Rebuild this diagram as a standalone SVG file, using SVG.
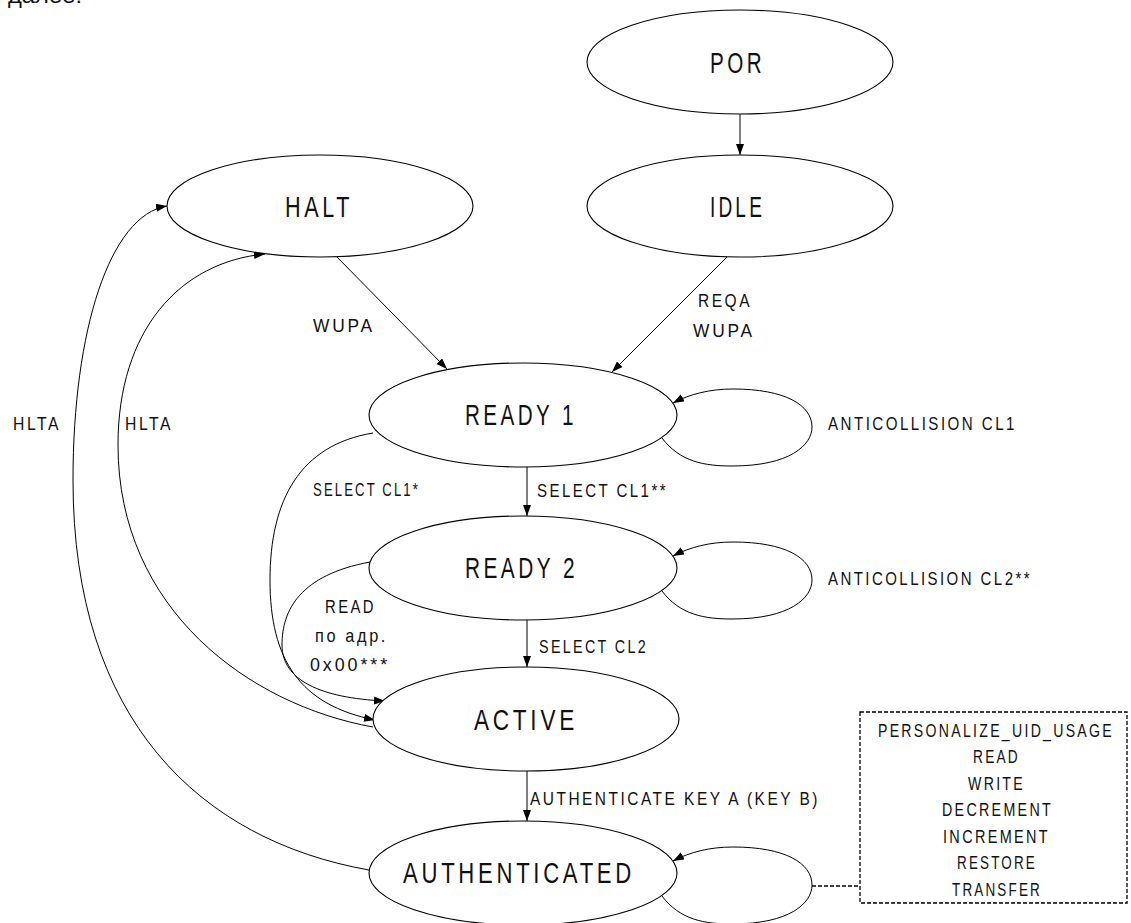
<svg xmlns="http://www.w3.org/2000/svg" width="1131" height="923" viewBox="0 0 1131 923">
<style>
.node ellipse{fill:#fff;stroke:#000;stroke-width:1.1}
.t{font-family:"Liberation Sans",Arial,sans-serif;fill:#111}
.n{font-size:30px;letter-spacing:5px}
.l{font-size:18.5px;letter-spacing:3px}
.c{fill:none;stroke:#000;stroke-width:1}
.d{fill:none;stroke:#000;stroke-width:1.3;stroke-dasharray:4 2}
</style>
<defs>
<marker id="ah" markerUnits="userSpaceOnUse" markerWidth="11" markerHeight="8" refX="11" refY="4" orient="auto">
<path d="M0,0 L11,4 L0,8 z" fill="#000"/>
</marker>
</defs>
<rect width="1131" height="923" fill="#fff"/>
<text class="t" x="8" y="3" font-size="22" textLength="74" lengthAdjust="spacingAndGlyphs">далее.</text>

<g id="connectors">
<path class="c" d="M740,114 L740,155" marker-end="url(#ah)"/>
<path class="c" d="M337,257 L447,369" marker-end="url(#ah)"/>
<path class="c" d="M727,257 L612,372" marker-end="url(#ah)"/>
<path class="c" d="M527,467 L527,516" marker-end="url(#ah)"/>
<path class="c" d="M527,620 L527,667" marker-end="url(#ah)"/>
<path class="c" d="M527,771 L527,821" marker-end="url(#ah)"/>
<path class="c" d="M662,438 C680,462 705,466 732,466 C790,466 812,445 812,427 C812,405 785,389 733,389 C710,389 690,394 673,403" marker-end="url(#ah)"/>
<path class="c" d="M662,591 C680,615 705,619 732,619 C790,619 812,598 812,580 C812,558 785,542 733,542 C710,542 690,547 673,556" marker-end="url(#ah)"/>
<path class="c" d="M662,896 C680,920 705,924 732,924 C790,924 812,903 812,885 C812,863 785,847 733,847 C710,847 690,852 673,861" marker-end="url(#ah)"/>
<path class="c" d="M373,433 C300,445 270,500 270,580 C270,660 300,705 375,720" marker-end="url(#ah)"/>
<path class="c" d="M370,562 C300,575 282,610 282,645 C282,680 320,698 385,701" marker-end="url(#ah)"/>
<path class="c" d="M373,727 C250,705 118,610 118,445 C118,330 180,262 265,254" marker-end="url(#ah)"/>
<path class="c" d="M369,870 C200,840 73,720 73,480 C73,330 110,215 167,206" marker-end="url(#ah)"/>
<path class="d" d="M812,886 L860,886"/>
<text class="t l" x="313" y="332" textLength="62" lengthAdjust="spacingAndGlyphs">WUPA</text>
<text class="t l" x="698" y="307" textLength="54" lengthAdjust="spacingAndGlyphs">REQA</text>
<text class="t l" x="693" y="337" textLength="62" lengthAdjust="spacingAndGlyphs">WUPA</text>
<text class="t l" x="828" y="430" textLength="189" lengthAdjust="spacingAndGlyphs">ANTICOLLISION CL1</text>
<text class="t l" x="828" y="585" textLength="204" lengthAdjust="spacingAndGlyphs">ANTICOLLISION CL2**</text>
<text class="t l" x="313" y="496" textLength="107" lengthAdjust="spacingAndGlyphs">SELECT CL1*</text>
<text class="t l" x="537" y="497" textLength="131" lengthAdjust="spacingAndGlyphs">SELECT CL1**</text>
<text class="t l" x="539" y="653" textLength="109" lengthAdjust="spacingAndGlyphs">SELECT CL2</text>
<text class="t l" x="325" y="613" textLength="51" lengthAdjust="spacingAndGlyphs">READ</text>
<text class="t l" x="315" y="642" textLength="73" lengthAdjust="spacingAndGlyphs">по адр.</text>
<text class="t l" x="310" y="671" textLength="80" lengthAdjust="spacingAndGlyphs">0x00***</text>
<text class="t l" x="530" y="805" textLength="290" lengthAdjust="spacingAndGlyphs">AUTHENTICATE KEY A (KEY B)</text>
<text class="t l" x="13" y="430" textLength="48" lengthAdjust="spacingAndGlyphs">HLTA</text>
<text class="t l" x="125" y="430" textLength="48" lengthAdjust="spacingAndGlyphs">HLTA</text>
</g>

<g id="POR" class="node"><ellipse cx="740" cy="62" rx="153" ry="52"/><text class="t n" x="710" y="73" textLength="55" lengthAdjust="spacingAndGlyphs">POR</text></g>
<g id="IDLE" class="node"><ellipse cx="740" cy="206" rx="153" ry="51"/><text class="t n" x="710" y="217" textLength="55" lengthAdjust="spacingAndGlyphs">IDLE</text></g>
<g id="HALT" class="node"><ellipse cx="320" cy="206" rx="153" ry="51"/><text class="t n" x="285" y="217" textLength="68" lengthAdjust="spacingAndGlyphs">HALT</text></g>
<g id="READY1" class="node"><ellipse cx="523" cy="415" rx="154" ry="52"/><text class="t n" x="465" y="425" textLength="112" lengthAdjust="spacingAndGlyphs">READY 1</text></g>
<g id="READY2" class="node"><ellipse cx="523" cy="568" rx="154" ry="52"/><text class="t n" x="465" y="578" textLength="113" lengthAdjust="spacingAndGlyphs">READY 2</text></g>
<g id="ACTIVE" class="node"><ellipse cx="526" cy="719" rx="153" ry="52"/><text class="t n" x="474" y="730" textLength="104" lengthAdjust="spacingAndGlyphs">ACTIVE</text></g>
<g id="AUTHENTICATED" class="node"><ellipse cx="523" cy="873" rx="154" ry="52"/><text class="t n" x="403" y="883" textLength="232" lengthAdjust="spacingAndGlyphs">AUTHENTICATED</text></g>

<g id="commands">
<rect class="d" x="860" y="712" width="267" height="191"/>
<text class="t l" x="878" y="737" textLength="236" lengthAdjust="spacingAndGlyphs">PERSONALIZE_UID_USAGE</text>
<text class="t l" x="973" y="763" textLength="47" lengthAdjust="spacingAndGlyphs">READ</text>
<text class="t l" x="968" y="790" textLength="57" lengthAdjust="spacingAndGlyphs">WRITE</text>
<text class="t l" x="942" y="816" textLength="111" lengthAdjust="spacingAndGlyphs">DECREMENT</text>
<text class="t l" x="943" y="843" textLength="107" lengthAdjust="spacingAndGlyphs">INCREMENT</text>
<text class="t l" x="957" y="869" textLength="80" lengthAdjust="spacingAndGlyphs">RESTORE</text>
<text class="t l" x="952" y="896" textLength="90" lengthAdjust="spacingAndGlyphs">TRANSFER</text>
</g>
</svg>
